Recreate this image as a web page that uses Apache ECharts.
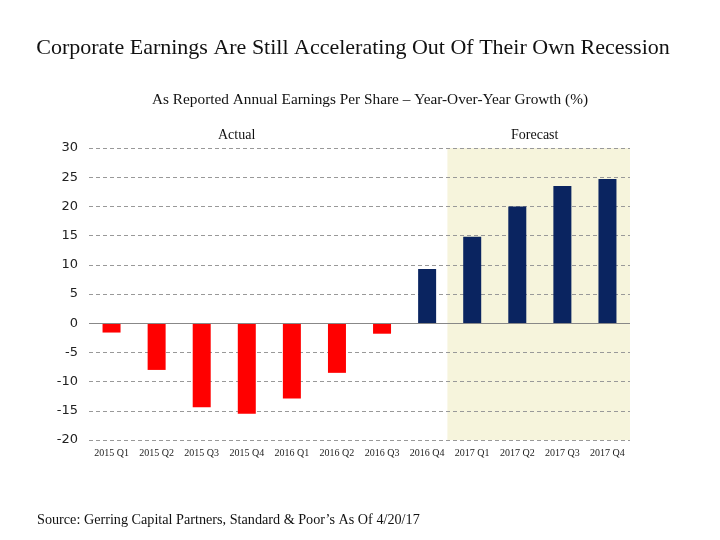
<!DOCTYPE html>
<html><head><meta charset="utf-8">
<script src="https://cdn.jsdelivr.net/npm/echarts@6/dist/echarts.min.js"></script>
<style>html,body{margin:0;padding:0;background:#fff}#c{width:720px;height:540px}</style>
</head><body><div id="c"></div>
<script>
const categories = ['2015 Q1','2015 Q2','2015 Q3','2015 Q4','2016 Q1','2016 Q2','2016 Q3','2016 Q4','2017 Q1','2017 Q2','2017 Q3','2017 Q4'];
const growth = [-1.6, -8.0, -14.4, -15.5, -12.9, -8.5, -1.8, 9.3, 14.8, 20.0, 23.5, 24.7];
const forecastStart = 7.45, forecastEnd = 11.5;
const yTicks = [-20, -15, -10, -5, 0, 5, 10, 15, 20, 25, 30];

const serif = '"Liberation Serif", "DejaVu Serif", serif';
const chart = echarts.init(document.getElementById('c'));
chart.setOption({
  animation: false,
  backgroundColor: '#fff',
  title: [
    {text: 'Corporate Earnings Are Still Accelerating Out Of Their Own Recession', left: 348, textAlign: 'center', top: 32,
     textStyle: {fontFamily: serif, fontSize: 22, fontWeight: 'normal', color: '#111'}},
    {text: 'As Reported Annual Earnings Per Share \u2013 Year-Over-Year Growth (%)', left: 365, top: 87, textAlign: 'center',
     textStyle: {fontFamily: serif, fontSize: 15.3, fontWeight: 'normal', color: '#111'}},
    {text: 'Source: Gerring Capital Partners, Standard & Poor\u2019s As Of 4/20/17', left: 32, top: 508,
     textStyle: {fontFamily: serif, fontSize: 14.2, fontWeight: 'normal', color: '#111'}}
  ],
  graphic: [
    {type: 'text', left: 218, top: 128, style: {text: 'Actual', font: '14px ' + serif, fill: '#111'}},
    {type: 'text', left: 511, top: 128, style: {text: 'Forecast', font: '14px ' + serif, fill: '#111'}}
  ],
  grid: {left: 89, right: 90, top: 148, bottom: 100},
  xAxis: [
    {type: 'category', data: categories, axisLine: {show: false}, axisTick: {show: false},
     axisLabel: {fontFamily: serif, fontSize: 10, color: '#222', margin: 8, interval: 0}},
    {type: 'value', min: -0.5, max: 11.5, show: false}
  ],
  yAxis: {type: 'value', z: 2.5, min: yTicks[0], max: yTicks[yTicks.length - 1], interval: 5,
    axisLine: {show: false}, axisTick: {show: false},
    axisLabel: {fontFamily: '"DejaVu Sans", sans-serif', fontSize: 13, color: '#222', margin: 11},
    splitLine: {lineStyle: {type: [4, 3], color: '#999', width: 1}}},
  series: [
    {type: 'line', xAxisIndex: 1, data: [], silent: true, z: 1,
     markArea: {silent: true, itemStyle: {color: '#f6f4dc'},
       data: [[{xAxis: forecastStart, yAxis: yTicks[0]}, {xAxis: forecastEnd, yAxis: yTicks[yTicks.length - 1]}]]}},
    {type: 'bar', data: growth, barWidth: 18, z: 3,
     itemStyle: {color: p => p.value < 0 ? '#ff0000' : '#0a2460'},
     markLine: {silent: true, symbol: 'none', label: {show: false},
       lineStyle: {type: 'solid', color: '#888', width: 1.2}, data: [{yAxis: 0}]}}
  ]
});
</script></body></html>
